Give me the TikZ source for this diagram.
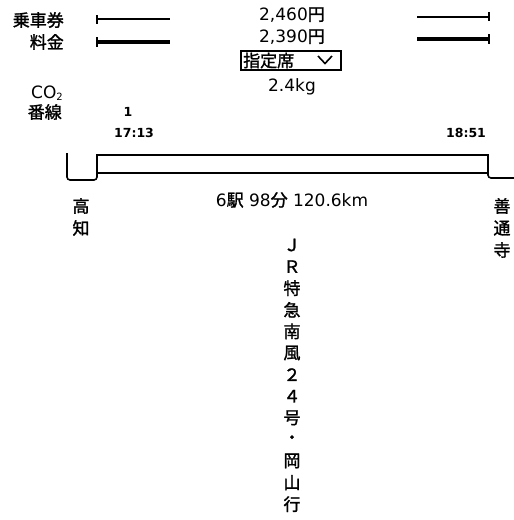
\documentclass[tikz,border=0pt]{standalone}
\usepackage{fontspec}
\setmainfont{DejaVu Sans}
\newfontfamily\cjk{Noto Sans CJK JP}[RawFeature={embolden=1.5}]
\usetikzlibrary{calc,positioning}

\begin{document}
\begin{tikzpicture}[x=1pt,y=-1pt,
    txt/.style={font=\fontsize{17}{17}\selectfont,inner sep=0pt},
    jp/.style={font=\fontsize{17}{17}\selectfont\cjk,inner sep=0pt},
    small/.style={font=\fontsize{12.5}{12.5}\selectfont\bfseries,inner sep=0pt},
    fare/.style={line width=2pt},
    farebold/.style={line width=3.5pt},
    track/.style={line width=1.6pt,rounded corners=3pt}]
  \useasboundingbox (0,0) rectangle (514,520);

  % fare lines, left and right
  \node[jp,anchor=east] (ticket) at (64,20) {乗車券};
  \node[jp,anchor=east] (charge) at (64,42) {料金};
  \draw[fare] (97,19) -- (170,19);
  \draw[line width=1.4pt] (97,15) -- (97,24);
  \draw[farebold] (97,42) -- (170,42);
  \draw[line width=1.4pt] (97,37) -- (97,47);
  \draw[fare] (417,17) -- (489,17);
  \draw[line width=1.4pt] (489,12) -- (489,21);
  \draw[farebold] (417,39) -- (489,39);
  \draw[line width=1.4pt] (489,34) -- (489,44);

  \node[txt] (price1) at (292,15) {2,460{\cjk 円}};
  \node[txt] (price2) at (292,37) {2,390{\cjk 円}};
  \draw[line width=1.2pt] (241,51) rectangle (341,70);
  \node[jp,anchor=west] (seat) at (243,60.5) {指定席};
  \draw[line width=1.6pt] (318,56) -- (325,63.5) -- (332,56);
  \node[txt] (co2val) at (292,87) {2.4kg};

  \node[txt,anchor=east] (co2) at (63,93) {CO\raisebox{-0.2ex}{\fontsize{10}{10}\selectfont 2}};
  \node[jp,anchor=east] (track) at (62,112) {番線};
  \node[small] (tracknum) at (128,112) {1};
  \node[small] (dep) at (134,133) {17:13};
  \node[small] (arr) at (466,133) {18:51};

  % train band
  \draw[track] (67,153) -- (67,180) -- (97,180) -- (97,173);
  \draw[line width=1.6pt] (97,155) rectangle (488,173);
  \draw[track] (488,172) -- (488,178) -- (514,178);

  \node[txt] (info) at (292,200) {6{\cjk 駅} 98{\cjk 分} 120.6km};
  \foreach \c [count=\i] in {高,知}
    \node[jp] (from\i) at (81,184+22*\i) {\c};
  \foreach \c [count=\i] in {善,通,寺}
    \node[jp] (to\i) at (502,184+22*\i) {\c};

  \foreach \c [count=\i] in {Ｊ,Ｒ,特,急,南,風,２,４,号,・,岡,山,行}
    \node[jp] (train\i) at (292,223.4+21.6*\i) {\c};
\end{tikzpicture}
\end{document}
